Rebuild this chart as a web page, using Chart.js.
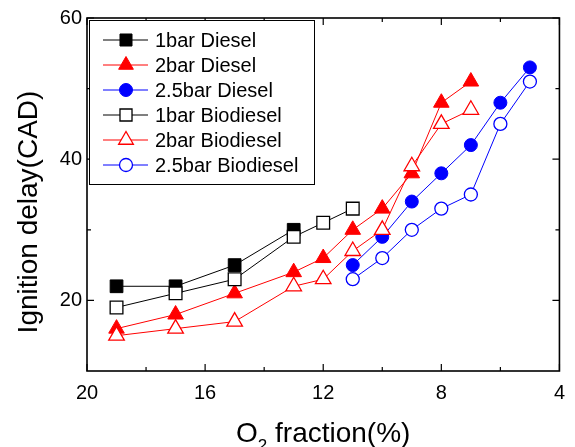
<!DOCTYPE html>
<html>
<head>
<meta charset="utf-8">
<script src="https://cdn.jsdelivr.net/npm/chart.js@4/dist/chart.umd.min.js"></script>
<style>
  body { margin: 0; background: #fff; }
  #wrap { width: 575px; height: 447px; }
</style>
</head>
<body>
<div id="wrap"><canvas id="myChart"></canvas></div>
<script>
// O2 fraction (%) for each group of series
const o2Bar1Diesel = [19, 17, 15, 13];
const o2Bar1Bio = [19, 17, 15, 13, 12, 11];
const o2Bar2 = [19, 17, 15, 13, 12, 11, 10, 9, 8, 7];
const o2Bar25 = [11, 10, 9, 8, 7, 6, 5];

// ignition delay (CAD)
const bar1Diesel = [22, 22, 25, 30];
const bar2Diesel = [16, 18, 21, 24, 26, 30, 33, 38, 48, 51];
const bar25Diesel = [25, 29, 34, 38, 42, 48, 53];
const bar1Bio = [19, 21, 23, 29, 31, 33];
const bar2Bio = [15, 16, 17, 22, 23, 27, 30, 39, 45, 47];
const bar25Bio = [23, 26, 30, 33, 35, 45, 51];

const seriesNames = ['1bar Diesel', '2bar Diesel', '2.5bar Diesel', '1bar Biodiesel', '2bar Biodiesel', '2.5bar Biodiesel'];

// axis ticks
const xTickLabels = [20, 16, 12, 8, 4];
const xMinorTicks = [18, 14, 10, 6];
const yTickLabels = [20, 40, 60];
const yMinorTicks = [30, 50];

const FONT = '"Liberation Sans", Arial, sans-serif';

function puntos(xs, ys) {
    return ys.map(function (v, i) { return { x: xs[i], y: v }; });
}

function serie(label, xs, ys, color, style, radius, filled, order) {
    return {
        label: label,
        data: puntos(xs, ys),
        borderColor: color,
        borderWidth: 1,
        pointStyle: style,
        pointRadius: radius,
        pointBackgroundColor: filled ? color : '#ffffff',
        pointBorderColor: color,
        pointBorderWidth: filled ? 1 : 1.3,
        order: order
    };
}

const datasets = [
    serie(seriesNames[0], o2Bar1Diesel, bar1Diesel, '#000000', 'rect', 9, true, 1),
    serie(seriesNames[1], o2Bar2, bar2Diesel, '#ff0000', 'triangle', 9, true, 1),
    serie(seriesNames[2], o2Bar25, bar25Diesel, '#0000ff', 'circle', 6.5, true, 1),
    serie(seriesNames[3], o2Bar1Bio, bar1Bio, '#000000', 'rect', 9, false, 0),
    serie(seriesNames[4], o2Bar2, bar2Bio, '#ff0000', 'triangle', 9, false, 0),
    serie(seriesNames[5], o2Bar25, bar25Bio, '#0000ff', 'circle', 6.5, false, 0)
];

// marco, ticks hacia adentro, leyenda y titulos
const marcoPlugin = {
    id: 'marco',
    afterDraw: function (chart) {
        const ctx = chart.ctx;
        const a = chart.chartArea;
        const xs = chart.scales.x;
        const ys = chart.scales.y;

        ctx.save();
        ctx.strokeStyle = '#000';
        ctx.lineWidth = 1.6;
        ctx.strokeRect(a.left, a.top, a.right - a.left, a.bottom - a.top);

        ctx.lineWidth = 1.2;
        ctx.beginPath();
        function tickX(v, len) {
            const px = xs.getPixelForValue(v);
            ctx.moveTo(px, a.bottom); ctx.lineTo(px, a.bottom - len);
            ctx.moveTo(px, a.top); ctx.lineTo(px, a.top + len);
        }
        function tickY(v, len) {
            const py = ys.getPixelForValue(v);
            ctx.moveTo(a.left, py); ctx.lineTo(a.left + len, py);
            ctx.moveTo(a.right, py); ctx.lineTo(a.right - len, py);
        }
        xTickLabels.forEach(function (v) { tickX(v, 7); });
        xMinorTicks.forEach(function (v) { tickX(v, 4); });
        yTickLabels.forEach(function (v) { tickY(v, 7); });
        yMinorTicks.forEach(function (v) { tickY(v, 4); });
        ctx.stroke();

        // leyenda
        const lx = a.left + 2, ly = a.top + 2;
        ctx.fillStyle = '#fff';
        ctx.fillRect(lx, ly, 225, 164);
        ctx.lineWidth = 1;
        ctx.strokeStyle = '#000';
        ctx.strokeRect(lx + 0.5, ly + 0.5, 225, 164);

        ctx.font = '20px ' + FONT;
        ctx.textBaseline = 'middle';
        ctx.textAlign = 'left';
        chart.data.datasets.forEach(function (ds, i) {
            const ry = ly + 20 + i * 25;
            ctx.strokeStyle = ds.borderColor;
            ctx.lineWidth = 1;
            ctx.beginPath();
            ctx.moveTo(lx + 14, ry);
            ctx.lineTo(lx + 59, ry);
            ctx.stroke();
            ctx.fillStyle = ds.pointBackgroundColor;
            ctx.strokeStyle = ds.pointBorderColor;
            ctx.lineWidth = ds.pointBorderWidth;
            Chart.helpers.drawPoint(ctx, {
                pointStyle: ds.pointStyle,
                radius: ds.pointStyle === 'circle' ? 6.5 : 8.5,
                rotation: 0,
                borderWidth: ds.pointBorderWidth
            }, lx + 37, ry);
            ctx.fillStyle = '#000';
            ctx.fillText(ds.label, lx + 66, ry + 1);
        });

        // titulo eje Y
        ctx.fillStyle = '#000';
        ctx.font = '28px ' + FONT;
        ctx.save();
        ctx.translate(37, 212);
        ctx.rotate(-Math.PI / 2);
        ctx.textAlign = 'center';
        ctx.textBaseline = 'alphabetic';
        ctx.fillText('Ignition delay(CAD)', 0, 0);
        ctx.restore();

        // titulo eje X con subindice
        const t1 = 'O', t2 = '2', t3 = ' fraction(%)';
        ctx.textBaseline = 'alphabetic';
        ctx.textAlign = 'left';
        ctx.font = '28px ' + FONT;
        const w1 = ctx.measureText(t1).width;
        const w3 = ctx.measureText(t3).width;
        ctx.font = '17px ' + FONT;
        const w2 = ctx.measureText(t2).width;
        let sx = (a.left + a.right) / 2 - (w1 + w2 + w3) / 2;
        const base = 442;
        ctx.font = '28px ' + FONT;
        ctx.fillText(t1, sx, base);
        ctx.font = '17px ' + FONT;
        ctx.fillText(t2, sx + w1, base + 9);
        ctx.font = '28px ' + FONT;
        ctx.fillText(t3, sx + w1 + w2, base);
        ctx.restore();
    }
};

const chartConfig = {
    type: 'line',
    data: { datasets: datasets },
    options: {
        responsive: true,
        maintainAspectRatio: false,
        animation: false,
        events: [],
        layout: { padding: { top: 18, right: 13, left: 0, bottom: 0 } },
        plugins: {
            legend: { display: false },
            tooltip: { enabled: false }
        },
        scales: {
            x: {
                type: 'linear',
                reverse: true,
                min: 4,
                max: 20,
                afterBuildTicks: function (s) { s.ticks = xTickLabels.map(function (v) { return { value: v }; }); },
                afterFit: function (s) { s.height = 76; },
                grid: { display: false, drawTicks: false },
                border: { display: false },
                ticks: { color: '#000', padding: 10, maxRotation: 0, font: { family: FONT, size: 20 } }
            },
            y: {
                min: 10,
                max: 60,
                afterBuildTicks: function (s) { s.ticks = yTickLabels.map(function (v) { return { value: v }; }); },
                afterFit: function (s) { s.width = 87; },
                grid: { display: false, drawTicks: false },
                border: { display: false },
                ticks: { color: '#000', padding: 5, font: { family: FONT, size: 20 } }
            }
        }
    },
    plugins: [marcoPlugin]
};

new Chart(document.getElementById('myChart'), chartConfig);
</script>
</body>
</html>
